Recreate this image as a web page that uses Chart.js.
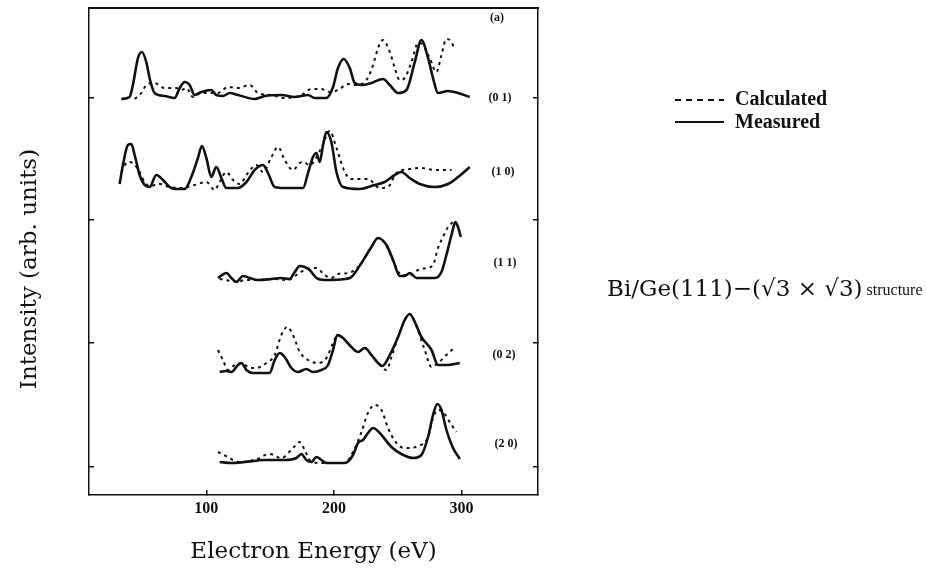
<!DOCTYPE html>
<html>
<head>
<meta charset="utf-8">
<script src="https://cdn.jsdelivr.net/npm/chart.js@4.4.1/dist/chart.umd.min.js"></script>
<style>
  html, body { margin: 0; padding: 0; background: #fff; }
  #wrap { width: 926px; height: 571px; }
</style>
</head>
<body>
<div id="wrap"><canvas id="chart" width="926" height="571"></canvas></div>
<script>
// LEED I(V) curves, Bi/Ge(111)-(√3x√3); energy in eV, intensity stacked (arb. units)
const energyTicks = [100, 200, 300];
const intensityTicks = [28, 152, 275, 397];
const xMin = 8, xMax = 360;
const yMin = 0, yMax = 487;

// (0 1)
const e01m = [33.3,39.8,42.4,46.4,49.5,52.9,55.5,59.4,67.3,75.1,79.1,83.0,86.9,90.8,96.1,103.9,107.8,113.0,118.3,124.8,137.9,145.7,158.8,169.3,179.7,184.9,194.1,199.3,203.2,207.7,212.4,216.3,221.6,229.4,238.5,243.8,250.3,256.9,263.4,268.6,273.8,277.7,281.6,289.5,297.3,306.5];
const i01m = [396,398,410,437,443,433,417,402,399,397,407,413,410,400,403,405,400,399,402,400,396,399,400,398,400,397,397,408,427,436,427,412,410,412,416,410,402,405,433,455,437,417,402,404,402,398];
const e01c = [43.8,49.0,52.9,59.4,67.3,76.5,80.4,84.3,89.5,96.1,109.1,116.9,124.8,134.0,140.5,151.0,161.4,169.3,174.5,182.4,190.2,196.7,203.2,211.1,216.3,225.5,230.7,234.6,238.5,243.8,247.7,251.6,255.5,260.8,266.0,269.9,275.1,280.4,284.3,288.2,292.2,294.7];
const i01c = [396,402,410,412,407,407,405,407,398,402,402,408,407,410,402,400,397,398,400,406,406,403,405,411,410,415,430,447,455,443,427,415,417,433,452,450,437,423,440,456,453,445];

// (1 0)
const e10m = [32.0,34.6,38.5,41.2,43.8,47.7,51.6,55.5,60.8,66.0,71.2,75.1,83.0,88.2,93.4,96.5,100.0,103.9,107.8,111.8,115.7,124.8,131.4,137.9,144.4,148.3,153.6,161.4,170.6,175.8,179.7,183.6,186.3,188.9,191.5,194.1,198.0,202.0,207.1,220.2,232.0,239.8,247.7,252.9,259.4,267.3,279.1,289.5,297.3,306.5];
const i10m = [311,330,350,351,340,320,310,308,320,315,308,306,306,318,337,349,337,318,328,317,307,307,313,325,330,322,308,307,307,307,322,338,342,333,350,363,353,323,308,306,310,313,320,323,317,311,308,311,318,328];
const e10c = [33.3,38.5,42.4,47.7,51.6,55.5,63.4,71.2,80.4,90.8,100.0,106.5,110.4,115.7,120.9,126.1,132.6,139.2,144.4,151.0,156.2,161.4,167.9,173.2,175.8,181.0,190.2,196.7,202.0,208.5,213.7,226.7,235.9,242.4,249.0,259.5,268.6,279.1,292.2];
const i10c = [323,333,332,323,313,309,311,308,307,310,313,305,313,323,315,311,322,330,323,338,348,335,325,332,333,330,347,364,347,323,316,316,307,308,322,326,327,325,325];

// (1 1)
const e11m = [109.1,115.7,119.6,123.5,128.7,134.0,140.5,151.0,158.8,165.3,169.3,173.2,177.1,181.0,186.3,192.8,208.5,213.7,221.6,229.4,234.6,241.2,246.4,251.6,255.5,259.5,264.7,279.1,284.3,288.2,292.2,295.3,297.3,299.5];
const i11m = [217,222,217,213,219,217,215,216,217,216,223,229,228,225,217,215,216,218,232,248,257,250,235,219,219,222,217,217,223,240,260,273,268,258];
const e11c = [110.4,119.6,124.8,130.0,140.5,151.0,164.0,170.6,177.1,186.3,192.8,198.0,203.2,211.1,216.3,221.6,229.4,234.6,241.2,246.4,253.0,259.5,266.0,272.5,277.7,281.6,285.5,289.5,293.4];
const i11c = [216,214,213,215,215,216,215,220,225,227,220,217,221,222,225,232,248,257,249,234,220,220,225,227,230,247,258,268,273];

// (0 2)
const e02m = [110.4,115.7,119.6,124.8,127.5,131.4,136.5,149.6,153.6,157.5,161.4,166.7,171.8,178.4,183.6,190.2,195.4,199.3,202.7,207.1,213.7,218.9,224.2,229.4,234.6,238.0,243.8,250.3,255.5,259.5,263.4,268.6,276.5,281.6,289.5,298.7];
const i02m = [123,124,123,130,132,125,122,122,135,142,138,127,123,126,123,125,130,145,160,157,148,143,147,140,132,129,140,158,175,181,173,158,145,130,130,132];
const e02c = [109.1,113.0,116.9,122.2,127.5,132.6,139.2,147.1,153.6,158.8,163.5,167.9,173.2,179.7,187.5,194.1,199.3,202.7,207.1,213.7,218.9,224.2,229.4,234.6,241.2,245.1,250.3,255.5,259.5,263.4,271.2,276.5,281.6,288.2,294.1];
const i02c = [145,135,125,130,132,128,127,132,140,160,168,160,143,135,132,137,152,160,157,148,143,147,140,132,125,138,158,175,181,173,145,128,132,140,147];

// (2 0)
const e20m = [110.4,119.6,130.0,145.7,161.4,170.6,174.5,178.4,182.4,186.3,190.2,194.1,208.5,215.0,218.9,222.8,226.7,230.7,235.9,245.1,252.9,262.0,268.6,273.8,277.7,281.1,284.3,288.2,293.4,298.7];
const i20m = [33,32,33,35,35,37,41,35,33,38,35,32,32,40,52,55,62,67,62,48,41,37,40,58,80,91,85,65,47,36];
const e20c = [109.1,116.9,124.8,137.9,149.6,158.8,167.9,173.2,177.1,181.0,188.9,208.5,215.0,221.6,226.7,232.0,237.3,242.4,249.0,255.5,266.0,273.8,277.7,281.6,285.5,290.7,296.0];
const i20c = [43,38,33,35,41,37,47,53,45,35,32,32,43,63,82,90,85,67,52,47,49,58,77,85,83,73,63];

const curveLabels = ['(a)', '(0 1)', '(1 0)', '(1 1)', '(0 2)', '(2 0)'];

const ink = '#111';
const pairs = [
  [e01c, i01c, true], [e01m, i01m, false],
  [e10c, i10c, true], [e10m, i10m, false],
  [e11c, i11c, true], [e11m, i11m, false],
  [e02c, i02c, true], [e02m, i02m, false],
  [e20c, i20c, true], [e20m, i20m, false]
];

const datasets = pairs.map(([xs, ys, calc]) => ({
  data: xs.map((x, i) => ({ x: x, y: ys[i] })),
  showLine: true,
  borderColor: ink,
  borderWidth: calc ? 2 : 2.6,
  borderDash: calc ? [3, 4] : [],
  pointRadius: 0,
  cubicInterpolationMode: 'monotone',
  fill: false
}));

const annotate = {
  id: 'annotate',
  afterDraw(chart) {
    const { ctx } = chart;
    ctx.save();
    ctx.fillStyle = ink;
    ctx.strokeStyle = ink;

    // y axis title
    ctx.save();
    ctx.translate(30, 269);
    ctx.rotate(-Math.PI / 2);
    ctx.font = '23px "DejaVu Serif"';
    ctx.textAlign = 'center';
    ctx.textBaseline = 'middle';
    ctx.fillText('Intensity (arb. units)', 0, 0);
    ctx.restore();

    // curve labels
    const labelPos = [[497, 18], [500, 98], [503, 172], [505, 263], [504, 355], [506, 444]];
    ctx.font = 'bold 12px "Liberation Serif"';
    ctx.textAlign = 'center';
    ctx.textBaseline = 'middle';
    curveLabels.forEach((t, i) => ctx.fillText(t, labelPos[i][0], labelPos[i][1]));

    // legend
    ctx.lineWidth = 2;
    ctx.setLineDash([6, 5]);
    ctx.beginPath(); ctx.moveTo(675, 100); ctx.lineTo(724, 100); ctx.stroke();
    ctx.setLineDash([]);
    ctx.beginPath(); ctx.moveTo(675, 122); ctx.lineTo(724, 122); ctx.stroke();
    ctx.font = 'bold 20px "Liberation Serif"';
    ctx.textAlign = 'left';
    ctx.fillText('Calculated', 735, 100);
    ctx.fillText('Measured', 735, 123);

    // structure note
    ctx.font = '23px "DejaVu Serif"';
    const main = 'Bi/Ge(111)\u2212(\u221A3 \u00D7 \u221A3)';
    ctx.fillText(main, 607, 290);
    const w = ctx.measureText(main).width;
    ctx.font = '16px "Liberation Serif"';
    ctx.fillText('structure', 607 + w + 4, 291);
    ctx.restore();
  }
};

const edge = { display: true, color: ink, width: 1.5 };

new Chart(document.getElementById('chart'), {
  type: 'scatter',
  data: { datasets: datasets },
  options: {
    responsive: false,
    animation: false,
    layout: { padding: 0 },
    plugins: { legend: { display: false }, tooltip: { enabled: false } },
    scales: {
      x: {
        type: 'linear', position: 'bottom', min: xMin, max: xMax,
        afterBuildTicks: s => { s.ticks = energyTicks.map(v => ({ value: v })); },
        afterFit: s => { s.height = 76; },
        grid: { drawOnChartArea: false, tickLength: -5, color: ink, lineWidth: 1.5 },
        border: edge,
        ticks: { color: ink, padding: 9, maxRotation: 0, font: { family: '"Liberation Serif"', size: 16, weight: 'bold' } },
        title: {
          display: true, text: 'Electron Energy (eV)', color: ink,
          font: { family: '"DejaVu Serif"', size: 23 }, padding: { top: 0, bottom: 5 }
        }
      },
      x2: {
        type: 'linear', position: 'top', min: xMin, max: xMax,
        afterFit: s => { s.height = 8; },
        grid: { drawOnChartArea: false, drawTicks: false },
        border: { display: true, color: ink, width: 2 },
        ticks: { display: false }
      },
      y: {
        type: 'linear', position: 'left', min: yMin, max: yMax,
        afterBuildTicks: s => { s.ticks = intensityTicks.map(v => ({ value: v })); },
        afterFit: s => { s.width = 89; },
        grid: { drawOnChartArea: false, tickLength: -5, color: ink, lineWidth: 1.5 },
        border: edge,
        ticks: { display: false }
      },
      y2: {
        type: 'linear', position: 'right', min: yMin, max: yMax,
        afterBuildTicks: s => { s.ticks = intensityTicks.map(v => ({ value: v })); },
        afterFit: s => { s.width = 388; },
        grid: { drawOnChartArea: false, tickLength: -5, color: ink, lineWidth: 1.5 },
        border: edge,
        ticks: { display: false }
      }
    }
  },
  plugins: [annotate]
});
</script>
</body>
</html>
